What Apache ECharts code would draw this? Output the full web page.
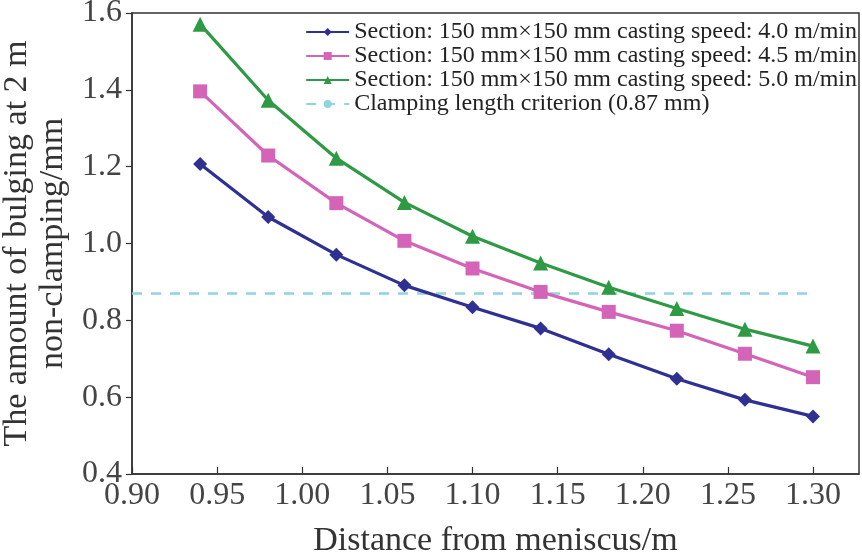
<!DOCTYPE html>
<html><head><meta charset="utf-8">
<script src="https://cdn.jsdelivr.net/npm/echarts@6/dist/echarts.min.js"></script>
<style>html,body{margin:0;padding:0;background:#fff}#c{width:862px;height:552px}</style>
</head><body><div id="c"></div>
<script>
var distances = [0.94, 0.98, 1.02, 1.06, 1.10, 1.14, 1.18, 1.22, 1.26, 1.30];
var speed40 = [1.207, 1.069, 0.971, 0.891, 0.834, 0.779, 0.712, 0.648, 0.593, 0.550];
var speed45 = [1.396, 1.229, 1.105, 1.007, 0.935, 0.874, 0.822, 0.773, 0.713, 0.652];
var speed50 = [1.571, 1.373, 1.222, 1.107, 1.019, 0.949, 0.886, 0.831, 0.777, 0.733];
var criterionValue = 0.87;
var criterionX = [0.90, 1.30];
var seriesNames = [
  'Section: 150 mm\u00d7150 mm casting speed: 4.0 m/min',
  'Section: 150 mm\u00d7150 mm casting speed: 4.5 m/min',
  'Section: 150 mm\u00d7150 mm casting speed: 5.0 m/min',
  'Clamping length criterion (0.87 mm)'
];
function pairs(xs, ys){ return xs.map(function(x,i){ return [x, ys[i]]; }); }
var FONT = '"Liberation Serif", "DejaVu Serif", serif';
var chart = echarts.init(document.getElementById('c'), null, {renderer:'canvas'});
chart.setOption({
  animation:false,
  textStyle:{fontFamily:FONT, color:'#333'},
  grid:{left:132, top:13, right:3, bottom:78, show:true, borderColor:'#333', borderWidth:1.5,
    backgroundColor:'transparent', containLabel:false, outerBoundsMode:'none'},
  legend:{
    orient:'vertical', right:5, top:20, padding:0, itemWidth:43, itemHeight:10, itemGap:0,
    textStyle:{fontFamily:FONT, fontSize:24, color:'#222', lineHeight:23},
    data:seriesNames
  },
  xAxis:{
    type:'value', min:0.90, max:1.327, interval:0.05,
    name:'Distance from meniscus/m', nameLocation:'middle', nameGap:50,
    nameTextStyle:{fontFamily:FONT, fontSize:34, color:'#333'},
    axisLine:{lineStyle:{color:'#333', width:1.5}},
    axisTick:{inside:true, length:7, lineStyle:{color:'#333', width:1.2}},
    axisLabel:{fontFamily:FONT, fontSize:32, color:'#444', margin:6, showMaxLabel:false,
      formatter:function(v){ return v.toFixed(2); }},
    splitLine:{show:false}
  },
  yAxis:{
    type:'value', min:0.4, max:1.6, interval:0.2,
    name:'The amount of bulging at 2 m\nnon-clamping/mm', nameLocation:'middle', nameGap:57,
    nameTextStyle:{fontFamily:FONT, fontSize:34, color:'#333', lineHeight:36},
    axisLine:{lineStyle:{color:'#333', width:1.5}},
    axisTick:{inside:false, length:6, lineStyle:{color:'#333', width:1.2}},
    axisLabel:{fontFamily:FONT, fontSize:32, color:'#444', margin:10,
      formatter:function(v){ return v.toFixed(1); }},
    splitLine:{show:false}
  },
  series:[
    {name:seriesNames[0], type:'line', data:pairs(distances, speed40), symbol:'diamond', symbolSize:14,
      lineStyle:{color:'#2e3192', width:3.2}, itemStyle:{color:'#2e3192'}, z:5},
    {name:seriesNames[1], type:'line', data:pairs(distances, speed45), symbol:'rect', symbolSize:14,
      lineStyle:{color:'#d464b8', width:3.2}, itemStyle:{color:'#d464b8'}, z:4},
    {name:seriesNames[2], type:'line', data:pairs(distances, speed50), symbol:'triangle', symbolSize:15,
      lineStyle:{color:'#2e9a44', width:3.2}, itemStyle:{color:'#2e9a44'}, z:3},
    {name:seriesNames[3], type:'line', data:criterionX.map(function(x){return [x, criterionValue];}), symbol:'none',
      lineStyle:{color:'#8fd4e0', width:2.5, type:[10,9]}, itemStyle:{color:'#8fd4e0'}, z:2}
  ]
});
</script></body></html>
